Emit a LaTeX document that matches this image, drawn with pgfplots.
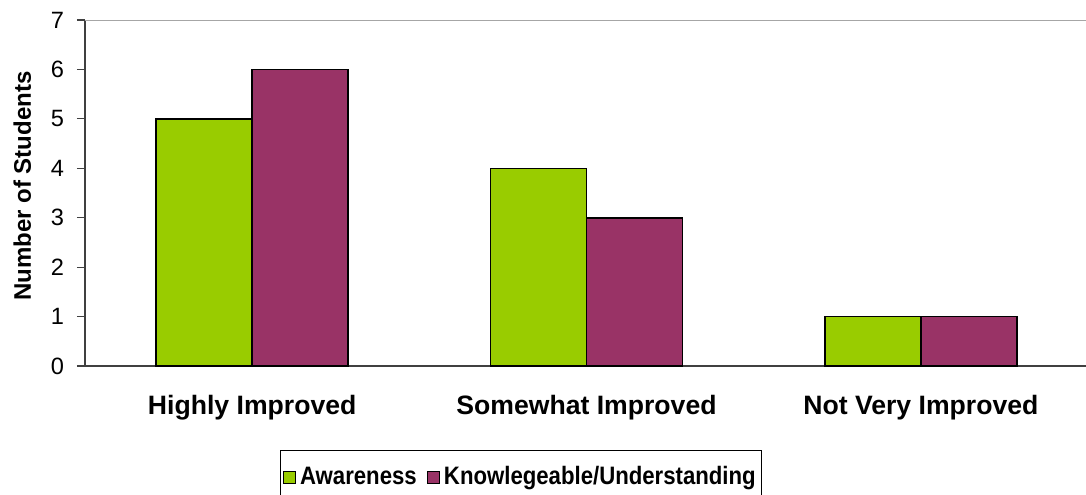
\documentclass[border=0pt]{standalone}
\usepackage{pgfplots}
\pgfplotsset{compat=1.18}
\usepackage{fontspec}
\setmainfont{Liberation Sans}
\newfontfamily\legendfont[FakeStretch=0.88]{Liberation Sans}

\definecolor{awareGreen}{HTML}{99CC00}
\definecolor{knowPurple}{HTML}{993366}
\definecolor{spine}{HTML}{404040}

\begin{document}
\begin{tikzpicture}
\path[use as bounding box] (-42.5pt,-64pt) rectangle (500.5pt,183pt);
\begin{axis}[
  at={(0pt,0pt)}, anchor=south west,
  scale only axis,
  width=501.5pt, height=173pt,
  xmin=-0.5, xmax=2.5,
  ymin=0, ymax=7,
  ybar=0pt, bar width=48pt,
  axis x line*=bottom, axis y line*=left,
  axis line style={spine, line width=0.8pt},
  /pgf/number format/assume math mode=true,
  ytick={0,...,7},
  xtick={0,1,2},
  xticklabels={Highly Improved, Somewhat Improved, Not Very Improved},
  major x tick style={draw=none},
  extra x ticks={-0.5,0.5,1.5,2.5},
  extra x tick labels={},
  extra x tick style={major tick length=4pt, tick style={spine, line width=0.6pt}},
  tick align=outside,
  major tick length=4pt,
  tick style={spine, line width=0.6pt},
  yticklabel style={font=\fontsize{11.8pt}{13pt}\selectfont, xshift=-3pt},
  xticklabel style={font=\fontsize{13.3pt}{15pt}\selectfont\bfseries, yshift=-7pt},
  ylabel={Number of Students},
  ylabel style={font=\fontsize{12pt}{14pt}\selectfont\bfseries, yshift=3pt, xshift=3.5pt},
  legend style={at={(0.435,0)}, anchor=north, yshift=-42pt,
    draw=black, line width=0.5pt,
    font=\legendfont\fontsize{12.6pt}{14pt}\selectfont\bfseries,
    legend columns=2,
    /tikz/every even column/.append style={column sep=3pt},
    inner xsep=1pt, inner ysep=6pt},
  legend image code/.code={\draw[#1, draw=black, line width=0.6pt] (0pt,-3pt) rectangle (6pt,3pt);},
]
\draw[gray!70, line width=0.8pt] (rel axis cs:0,1) -- (rel axis cs:1,1);
\addplot[fill=awareGreen, draw=black, line width=0.8pt] coordinates {(0,5) (1,4) (2,1)};
\addplot[fill=knowPurple, draw=black, line width=0.8pt] coordinates {(0,6) (1,3) (2,1)};
\legend{Awareness, Knowlegeable/Understanding}
\end{axis}
\end{tikzpicture}
\end{document}
